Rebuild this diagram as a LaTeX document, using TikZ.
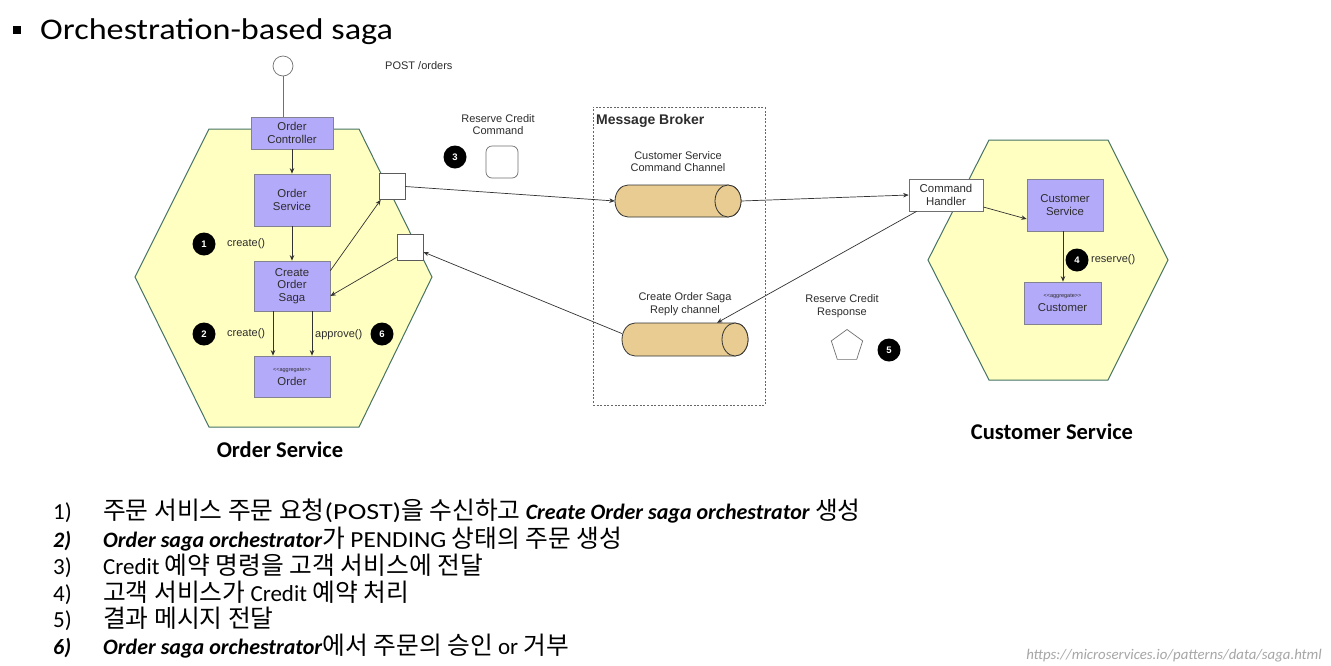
\documentclass[tikz,border=0pt]{standalone}
\usepackage{fontspec}
\setmainfont{Carlito}
\newfontfamily\hv{Liberation Sans}
\newfontfamily\titlefont{Carlito}[FakeStretch=1.14]
\newfontfamily\widefont{Carlito}[FakeStretch=1.22]
\newfontfamily\midfont{Carlito}[FakeStretch=1.1]
\newfontfamily\krfont{Noto Sans CJK KR}[Scale=1.076]
\usetikzlibrary{arrows.meta,shapes.geometric,calc}
\newcommand\hk[1]{{\krfont #1}}
\newcommand\hw[1]{{\widefont #1}}
\newcommand\hm[1]{{\midfont #1}}
\newcommand\bit[1]{{\fontsize{22}{26}\selectfont\textbf{\textit{#1}}}}
\definecolor{hexfill}{RGB}{255,255,194}
\definecolor{hexdraw}{RGB}{70,115,100}
\definecolor{boxfill}{RGB}{180,170,250}
\definecolor{boxdraw}{RGB}{130,130,145}
\definecolor{chanfill}{RGB}{232,204,145}
\definecolor{linecol}{RGB}{50,50,50}
\definecolor{txt}{RGB}{45,45,45}
\begin{document}
\begin{tikzpicture}[x=1pt,y=-1pt,
  box/.style={draw=boxdraw, fill=boxfill, line width=0.7pt, inner sep=0pt, align=center,
    font=\hv\fontsize{11.4}{12.8}\selectfont, text=txt},
  port/.style={draw=linecol!80, fill=white, line width=0.7pt, inner sep=0pt, minimum width=26pt, minimum height=26pt},
  lbl/.style={inner sep=0pt, align=center, font=\hv\fontsize{11}{12.8}\selectfont, text=txt},
  badge/.style={circle, fill=black, inner sep=0pt, minimum size=23pt, text=white, font=\hv\bfseries\fontsize{9.5}{10}\selectfont},
  conn/.style={draw=linecol, line width=0.7pt, -{Stealth[length=5.5pt,width=4.5pt]}},
  chan/.style={draw=linecol, fill=chanfill, line width=0.8pt},
  chanbox/.style={inner sep=0pt, minimum width=126pt, minimum height=32pt},
  hex/.style={draw=hexdraw, fill=hexfill, line width=1pt},
  listtxt/.style={anchor=base west, inner sep=0pt, font=\fontsize{23}{26}\selectfont, text=black},
  svcname/.style={inner sep=0pt, font=\bfseries\fontsize{22.5}{26}\selectfont, text=black}
]
\useasboundingbox (0,0) rectangle (1331,665);
\fill[white] (0,0) rectangle (1331,665);

% title
\node[fill=black, inner sep=0pt, minimum size=8pt] (bullet) at (16.5,29.5) {};
\node[anchor=base west, inner sep=0pt, font=\titlefont\fontsize{30}{34}\selectfont] (title) at (40,39) {Orchestration-based saga};

% hexagons
\draw[hex] (209,129) -- (359,129) -- (432,277) -- (359,427) -- (209,427) -- (135,277) -- cycle;
\draw[hex] (989,140) -- (1108,140) -- (1168,260) -- (1108,380) -- (989,380) -- (928,260) -- cycle;

% message broker
\node[draw=gray!80!black, line width=0.8pt, dash pattern=on 2pt off 1.6pt, minimum width=172pt, minimum height=298pt, inner sep=0pt] (mb) at (679,256) {};
\node[anchor=west, inner sep=0pt, font=\hv\bfseries\fontsize{14}{16}\selectfont, text=txt] (mbl) at (596,121) {Message Broker};

% order service side
\node[draw=linecol!70, fill=white, circle, minimum size=20pt, inner sep=0pt, line width=0.7pt] (post) at (283,66) {};
\node[lbl, anchor=west] (postl) at (385,66) {POST /orders};
\node[box, minimum width=82pt, minimum height=32pt] (ctrl) at (292,133) {Order\\Controller};
\node[box, minimum width=76pt, minimum height=52pt] (osvc) at (292,200) {Order\\Service};
\node[box, minimum width=76pt, minimum height=50pt] (saga) at (292,286) {Create\\Order\\Saga};
\node[box, minimum width=76pt, minimum height=41pt] (order) at (292,376.5) {{\fontsize{5.5}{6}\selectfont <<aggregate>>}\\[1pt]Order};
\node[port] (port1) at (392,186.5) {};
\node[port] (port2) at (410,247) {};

\node[badge] (b1) at (204,244) {1};
\node[lbl, anchor=west] (l1) at (227,244) {create()};
\node[badge] (b2) at (204,334) {2};
\node[lbl, anchor=west] (l2) at (227,334) {create()};
\node[lbl, anchor=west] (l6) at (315,335) {approve()};
\node[badge] (b6) at (382,334) {6};

\draw[draw=linecol!70, line width=0.7pt] (post.south) -- (post.south |- ctrl.north);
\draw[conn] (ctrl.south) -- (osvc.north);
\draw[conn] (osvc.south) -- (saga.north);
\draw[conn] ([xshift=-19pt]saga.south) -- ([xshift=-19pt]order.north);
\draw[conn] ([xshift=20pt]saga.south) -- ([xshift=20pt]order.north);
\draw[conn] ([yshift=-10pt]saga.north east) -- ([xshift=2pt]port1.south west);
\draw[conn] ([yshift=3pt]port2.south west) -- ([yshift=-10pt]saga.east);

% command message
\node[lbl] (cmdl) at (498,124.5) {Reserve Credit\\Command};
\node[badge] (b3) at (455,157) {3};
\node[draw=linecol!70, fill=white, rounded corners=6pt, minimum size=32pt, inner sep=0pt, line width=0.7pt] (cmd) at (502,162) {};

% channels
\node[lbl] (ch1l) at (678,161.5) {Customer Service\\Command Channel};
\node[chanbox] (ch1) at (678,201) {};
\draw[chan] (628,185) -- (728,185) arc[start angle=90,end angle=-90,x radius=13pt,y radius=16pt] -- (628,217) arc[start angle=270,end angle=90,x radius=13pt,y radius=16pt] -- cycle;
\draw[chan] (728,201) ellipse [x radius=13pt, y radius=16pt];

\node[lbl] (ch2l) at (685,304.5) {Create Order Saga\\Reply channel};
\node[chanbox, minimum height=33pt] (ch2) at (685,339.5) {};
\draw[chan] (635,323) -- (735,323) arc[start angle=90,end angle=-90,x radius=13pt,y radius=16.5pt] -- (635,356) arc[start angle=270,end angle=90,x radius=13pt,y radius=16.5pt] -- cycle;
\draw[chan] (735,339.5) ellipse [x radius=13pt, y radius=16.5pt];

% customer side
\node[draw=linecol!70, fill=white, line width=0.7pt, inner sep=0pt, minimum width=74pt, minimum height=32pt, align=center, font=\hv\fontsize{11.4}{12.8}\selectfont, text=txt] (handler) at (946,195) {Command\\Handler};
\node[box, minimum width=76pt, minimum height=52pt] (csvc) at (1065,205) {Customer\\Service};
\node[box, minimum width=77pt, minimum height=42pt] (cust) at (1062.5,303) {{\fontsize{5.5}{6}\selectfont <<aggregate>>}\\[1pt]Customer};
\node[badge] (b4) at (1077,260) {4};
\node[lbl, anchor=west] (l4) at (1091,260) {reserve()};

\node[lbl] (respl) at (842,306.5) {Reserve Credit\\Response};
\node[draw=linecol!70, fill=white, regular polygon, regular polygon sides=5, minimum size=33pt, inner sep=0pt, line width=0.7pt] (resp) at (847,346) {};
\node[badge] (b5) at (889,350) {5};

% connectors
\draw[conn] (port1.east) -- (ch1.west);
\draw[conn] (ch1.east) -- (handler.west);
\draw[conn] ([yshift=-12pt]handler.east) -- ([yshift=-14pt]csvc.west);
\draw[conn] ([xshift=-2pt]csvc.south) -- ([xshift=0.5pt]cust.north);
\draw[conn] ([xshift=8pt]handler.south west) -- ([xshift=32pt]ch2.north);
\draw[conn] ([yshift=6pt]ch2.west) -- ([yshift=-5pt]port2.east);

% service names
\node[svcname] (osn) at (280,450) {Order Service};
\node[svcname] (csn) at (1052,432) {Customer Service};

% list
\node[listtxt] (n1) at (53,519) {1)};
\node[listtxt] (t1) at (103,519) {\hk{주문 서비스 주문 요청}\hw{(POST)}\hk{을 수신하고} \bit{Create Order saga orchestrator} \hk{생성}};
\node[listtxt] (n2) at (53,547) {\bit{2)}};
\node[listtxt] (t2) at (103,547) {\bit{Order saga orchestrator}\hk{가} \hm{PENDING} \hk{상태의 주문 생성}};
\node[listtxt] (n3) at (53,574.5) {3)};
\node[listtxt] (t3) at (103,574.5) {Credit \hk{예약 명령을 고객 서비스에 전달}};
\node[listtxt] (n4) at (53,601.5) {4)};
\node[listtxt] (t4) at (103,601.5) {\hk{고객 서비스가} Credit \hk{예약 처리}};
\node[listtxt] (n5) at (53,627.5) {5)};
\node[listtxt] (t5) at (103,627.5) {\hk{결과 메시지 전달}};
\node[listtxt] (n6) at (53,654.5) {\bit{6)}};
\node[listtxt] (t6) at (103,654.5) {\bit{Order saga orchestrator}\hk{에서 주문의 승인} or \hk{거부}};

\node[anchor=base east, inner sep=0pt, font=\itshape\fontsize{14.8}{16}\selectfont, text=gray!70] (url) at (1322,659) {https://microservices.io/patterns/data/saga.html};
\end{tikzpicture}
\end{document}
